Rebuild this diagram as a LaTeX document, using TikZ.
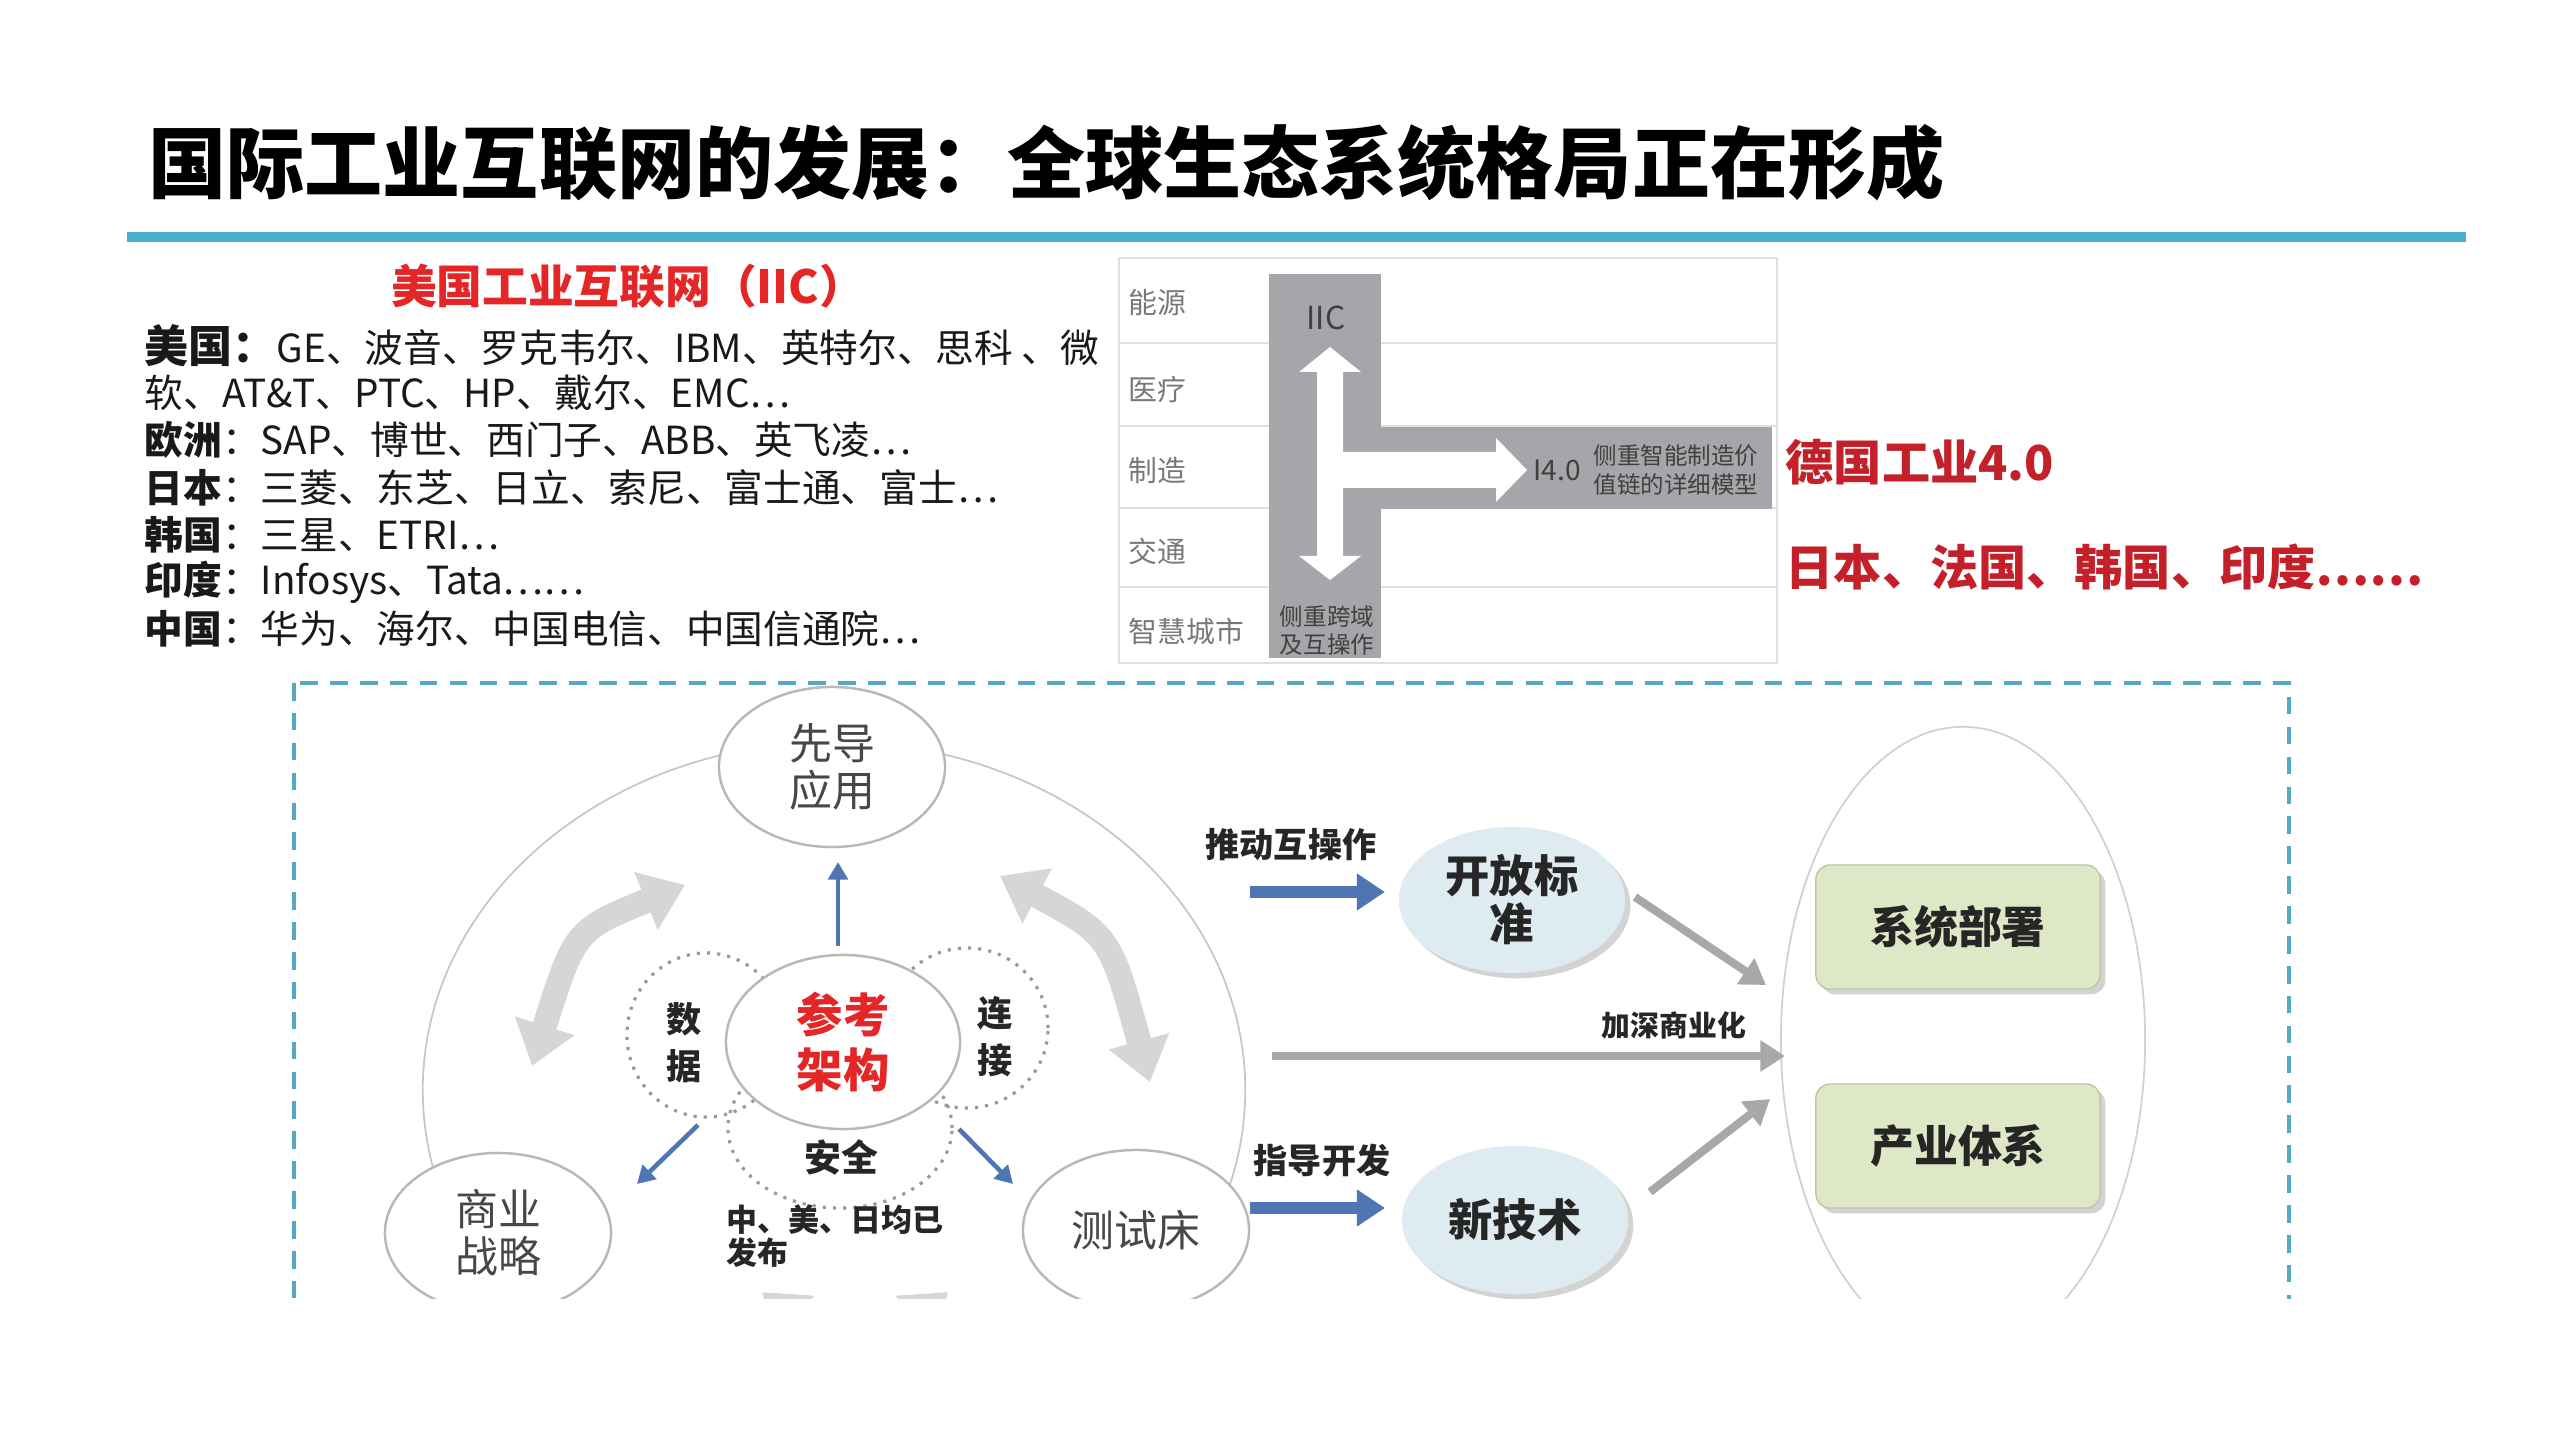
\documentclass[tikz,border=0pt]{standalone}
\usepackage{fontspec}
\setmainfont{Noto Sans CJK SC}
\usetikzlibrary{
  arrows.meta, % For arrow tips
  shapes.geometric, % For ellipse nodes
  shadows % For drop shadows
}

\definecolor{rulecol}{RGB}{72,178,206}
\definecolor{headred}{RGB}{228,38,38}
\definecolor{darkred}{RGB}{196,32,42}
\definecolor{bargray}{RGB}{166,166,170}
\definecolor{lblgray}{RGB}{120,120,120}
\definecolor{framecol}{RGB}{88,168,196}
\definecolor{steel}{RGB}{78,118,178}
\definecolor{arrowgray}{RGB}{168,168,168}
\definecolor{arcgray}{RGB}{214,214,214}
\definecolor{bluefill}{RGB}{222,236,242}
\definecolor{boxgreen}{RGB}{222,232,198}

\begin{document}
\begin{tikzpicture}[
      x=0.01cm, y=-0.01cm, % pixel grid, y runs down
      member/.style={anchor=west, inner sep=0pt, text=black!90,
        font=\fontsize{11}{13}\selectfont},
      rowlbl/.style={anchor=west, inner sep=0pt, text=lblgray,
        font=\fontsize{8.2}{9}\selectfont},
      tableline/.style={draw=black!12, line width=0.8pt},
      bartxt/.style={inner sep=0pt, text=black!75, align=center,
        font=\fontsize{6.7}{8}\selectfont},
      redtxt/.style={anchor=west, inner sep=0pt, text=darkred,
        font=\fontsize{13.7}{16}\selectfont\bfseries},
      frame/.style={draw=framecol, line width=0.9pt, dash pattern=on 5pt off 3.5pt},
      ring/.style={ellipse, draw=black!22, line width=0.5pt, inner sep=0pt},
      dotring/.style={ellipse, draw=black!40, dotted, line width=0.9pt, inner sep=0pt},
      bubble/.style={ellipse, draw=black!28, line width=0.7pt, fill=white,
        inner sep=0pt, text=black!72, align=center,
        font=\fontsize{12.2}{13.4}\selectfont,
        minimum width=2.26cm, minimum height=1.6cm},
      bluebubble/.style={ellipse, fill=bluefill, inner sep=0pt, align=center,
        text=black!85, font=\fontsize{12.6}{13.6}\selectfont\bfseries,
        minimum width=2.26cm, minimum height=1.46cm,
        drop shadow={shadow xshift=1.5pt, shadow yshift=-1.5pt, opacity=0.35}},
      greenbox/.style={rectangle, rounded corners=4pt, fill=boxgreen,
        draw=boxgreen!85!black, line width=0.4pt, text=black!85,
        font=\fontsize{12.5}{14}\selectfont\bfseries,
        minimum width=2.84cm, minimum height=1.24cm,
        drop shadow={shadow xshift=1.5pt, shadow yshift=-1.5pt, opacity=0.35}},
      smalllbl/.style={inner sep=0pt, text=black!85, font=\fontsize{9.7}{11}\selectfont\bfseries},
      bluearrow/.style={draw=steel, line width=3.4pt, -{Triangle[length=8pt, width=10pt]}},
      thinblue/.style={draw=steel, line width=1.3pt, -{Triangle[length=5pt, width=5.5pt]}},
      grayarrow/.style={draw=arrowgray, line width=2.3pt, -{Triangle[length=7pt, width=8.5pt]}},
      arcarrow/.style={draw=arcgray, line width=7pt,
        {Triangle[length=12pt, width=17pt]}-{Triangle[length=12pt, width=17pt]}},
    ]

    \useasboundingbox (0,0) rectangle (2560,1440);

    % Titel und Linie
    \node[anchor=west, inner sep=0pt, font=\fontsize{22.2}{24}\selectfont\bfseries]
      (title) at (148,163) {国际工业互联网的发展：全球生态系统格局正在形成};
    \draw[rulecol, line width=2.9pt] (127,237) -- (2466,237);

    % IIC Mitglieder
    \node[inner sep=0pt, text=headred, font=\fontsize{13}{15}\selectfont\bfseries]
      (iich) at (628,286) {美国工业互联网（IIC）};
    \foreach \row [count=\i] in {
        {{\fontsize{12.5}{13}\selectfont\bfseries 美国：}GE、波音、罗克韦尔、IBM、英特尔、思科 、微},
        {软、AT\&T、PTC、HP、戴尔、EMC⋯},
        {\textbf{欧洲}：SAP、博世、西门子、ABB、英飞凌⋯},
        {\textbf{日本}：三菱、东芝、日立、索尼、富士通、富士⋯},
        {\textbf{韩国}：三星、ETRI⋯},
        {\textbf{印度}：Infosys、Tata⋯⋯},
        {\textbf{中国}：华为、海尔、中国电信、中国信通院⋯}}
      \node[member] (m\i) at (144,{346+47.2*(\i-1)}) {\row};

    % Tabelle der Branchen
    \draw[tableline] (1119,258) rectangle (1777,663);
    \foreach \y in {343,426,508,587}
      \draw[tableline] (1119,\y) -- (1777,\y);
    \foreach \lbl/\y [count=\i] in {能源/303, 医疗/389, 制造/471, 交通/551, 智慧城市/631}
      \node[rowlbl] (row\i) at (1128,\y) {\lbl};

    % graue Balken mit weissen Pfeilen
    \fill[bargray] (1269,274) rectangle (1381,658);
    \fill[bargray] (1381,427) rectangle (1772,509);
    \fill[white] (1330,347) -- (1361,372) -- (1343,372) -- (1343,556) -- (1361,556)
      -- (1330,580) -- (1299,556) -- (1317,556) -- (1317,372) -- (1299,372) -- cycle;
    \fill[white] (1343,452) -- (1496,452) -- (1496,438) -- (1527,470) -- (1496,502)
      -- (1496,488) -- (1343,488) -- cycle;
    \node[bartxt, font=\fontsize{9}{10}\selectfont] (iic) at (1326,318) {IIC};
    \node[bartxt] (cross) at (1327,631) {侧重跨域\\及互操作};
    \node[bartxt, font=\fontsize{8}{9}\selectfont] (ifour) at (1557,470) {I4.0};
    \node[bartxt] (model) at (1676,470) {侧重智能制造价\\值链的详细模型};

    % rechts: weitere Initiativen
    \node[redtxt] (germany) at (1785,462) {德国工业4.0};
    \node[redtxt] (others) at (1785,567) {日本、法国、韩国、印度……};

    % unterer Teil
    \begin{scope}
      \clip (0,600) rectangle (2560,1298);
      \draw[frame] (294,683) rectangle (2289,1420);

      % grosser Ring und graue Kreispfeile
      \node[ring, minimum width=8.22cm, minimum height=6.96cm] (ring) at (834,1090) {};
      \draw[arcarrow] (685,885) .. controls (575,930) .. (532,1066);
      \draw[arcarrow] (1000,876) .. controls (1110,935) .. (1150,1082);
      \draw[arcarrow] (762,1292) .. controls (855,1372) .. (948,1292);

      % Referenzarchitektur
      \node[dotring, minimum width=1.58cm, minimum height=1.64cm] (data) at (706,1035) {};
      \node[dotring, minimum width=1.62cm, minimum height=1.60cm] (link) at (967,1028) {};
      \node[dotring, minimum width=2.24cm, minimum height=1.60cm] (safe) at (840,1128) {};
      \node[bubble, minimum width=2.34cm, minimum height=1.74cm, text=headred,
        font=\fontsize{13.2}{15.6}\selectfont\bfseries] (ref) at (843,1042) {参考\\架构};
      \node[smalllbl, align=center, font=\fontsize{10}{13.3}\selectfont\bfseries] (datalbl) at (684,1043) {数\\据};
      \node[smalllbl, align=center, font=\fontsize{10}{13.3}\selectfont\bfseries] (linklbl) at (995,1037) {连\\接};
      \node[smalllbl, font=\fontsize{10.5}{12}\selectfont\bfseries] (safelbl) at (841,1157) {安全};
      \node[smalllbl, anchor=west, align=left, font=\fontsize{8.8}{9.6}\selectfont\bfseries]
        (published) at (726,1236) {中、美、日均已\\发布};

      \node[bubble] (lead) at (832,767) {先导\\应用};
      \node[bubble] (biz) at (498,1233) {商业\\战略};
      \node[bubble] (test) at (1136,1230) {测试床};

      \coordinate (upA) at (838,946);
      \coordinate (upB) at (838,862);
      \coordinate (leftA) at (698,1125);
      \coordinate (leftB) at (637,1184);
      \coordinate (rightA) at (959,1129);
      \coordinate (rightB) at (1013,1184);
      \draw[thinblue] (upA) -- (upB);
      \draw[thinblue] (leftA) -- (leftB);
      \draw[thinblue] (rightA) -- (rightB);

      % Standards und neue Technik
      \node[smalllbl] (pushlbl) at (1291,845) {推动互操作};
      \node[smalllbl] (guidelbl) at (1322,1160) {指导开发};
      \node[bluebubble] (open) at (1512,900) {开放标\\准};
      \node[bluebubble, minimum height=1.48cm] (newtech) at (1515,1220) {新技术};
      \coordinate (pushA) at (1250,892);
      \coordinate (pushB) at (1385,892);
      \coordinate (guideA) at (1250,1208);
      \coordinate (guideB) at (1385,1208);
      \draw[bluearrow] (pushA) -- (pushB);
      \draw[bluearrow] (guideA) -- (guideB);

      % Ergebnis rechts
      \node[ring, draw=black!18, minimum width=3.64cm, minimum height=6.26cm] (goal) at (1963,1040) {};
      \node[greenbox] (deploy) at (1958,927) {系统部署};
      \node[greenbox] (industry) at (1958,1146) {产业体系};
      \coordinate (openEnd) at (1766,985);
      \coordinate (techEnd) at (1770,1099);
      \coordinate (commA) at (1272,1056);
      \coordinate (commB) at (1785,1056);
      \draw[grayarrow] (1635,897) -- (openEnd);
      \draw[grayarrow] (1650,1192) -- (techEnd);
      \draw[grayarrow] (commA) -- (commB);
      \node[smalllbl, font=\fontsize{8.2}{9}\selectfont\bfseries] (commlbl) at (1674,1025) {加深商业化};
    \end{scope}

  \end{tikzpicture}
\end{document}
